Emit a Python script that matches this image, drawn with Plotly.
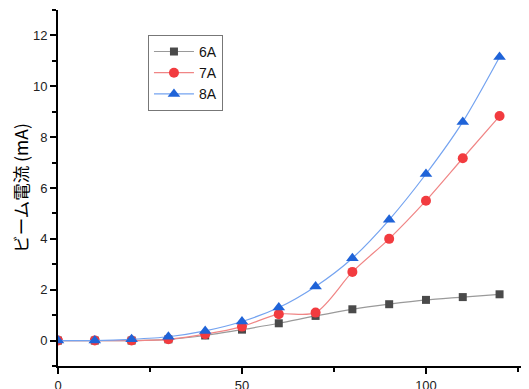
import plotly.graph_objects as go

x_vals = [0, 10, 20, 30, 40, 50, 60, 70, 80, 90, 100, 110, 120]
i_6a = [0, 0, 0, 0.05, 0.2, 0.43, 0.68, 0.97, 1.23, 1.43, 1.6, 1.71, 1.82]
i_7a = [0, 0, 0, 0.05, 0.25, 0.55, 1.04, 1.1, 2.7, 4.0, 5.5, 7.17, 8.83]
i_8a = [0, 0, 0.05, 0.15, 0.38, 0.75, 1.3, 2.13, 3.24, 4.75, 6.55, 8.6, 11.15]
names = ["6A", "7A", "8A"]

fig = go.Figure()
styles = [
    dict(sym="square", mc="#4a4a4a", lc="#9a9a9a", ms=8),
    dict(sym="circle", mc="#f23b3f", lc="#f08585", ms=10),
    dict(sym="triangle-up", mc="#1f63d8", lc="#74a3f0", ms=11),
]
for name, ys, st in zip(names, [i_6a, i_7a, i_8a], styles):
    fig.add_trace(go.Scatter(
        x=x_vals, y=ys, name=name, mode="lines+markers",
        line=dict(color=st["lc"], width=1.2, shape="spline", smoothing=0.8),
        marker=dict(symbol=st["sym"], color=st["mc"], size=st["ms"]),
    ))

axis_font = dict(family="Liberation Sans, Arial", size=13, color="#222")
# page body has an 8px margin, so margins are offset to compensate
fig.update_layout(
    width=529, height=389,
    margin=dict(l=50, r=8, t=2, b=31),
    paper_bgcolor="white", plot_bgcolor="white",
    showlegend=True,
    legend=dict(x=0.191, y=0.93, xanchor="left", yanchor="top",
                bordercolor="#777", borderwidth=1, bgcolor="white",
                font=dict(family="Liberation Sans, Arial", size=14, color="#111"),
                itemwidth=40, tracegroupgap=0),
    xaxis=dict(range=[0, 128], showgrid=False, zeroline=False, automargin=False,
               showline=True, linecolor="black", linewidth=2,
               ticks="outside", ticklen=6, tickwidth=2, tickcolor="black",
               tick0=0, dtick=50, tickfont=axis_font,
               minor=dict(ticks="outside", ticklen=4, tickwidth=2, dtick=25, tickcolor="black")),
    yaxis=dict(range=[-1, 13], showgrid=False, zeroline=False, automargin=False,
               showline=True, linecolor="black", linewidth=2,
               ticks="outside", ticklen=6, tickwidth=2, tickcolor="black",
               tick0=0, dtick=2, tickfont=axis_font,
               minor=dict(ticks="outside", ticklen=4, tickwidth=2, dtick=1, tickcolor="black"),
               title=dict(text="ビーム電流 (mA)",
                          font=dict(family="Noto Sans CJK JP", size=17.5, color="black"))),
)
fig.write_html("out.html")
